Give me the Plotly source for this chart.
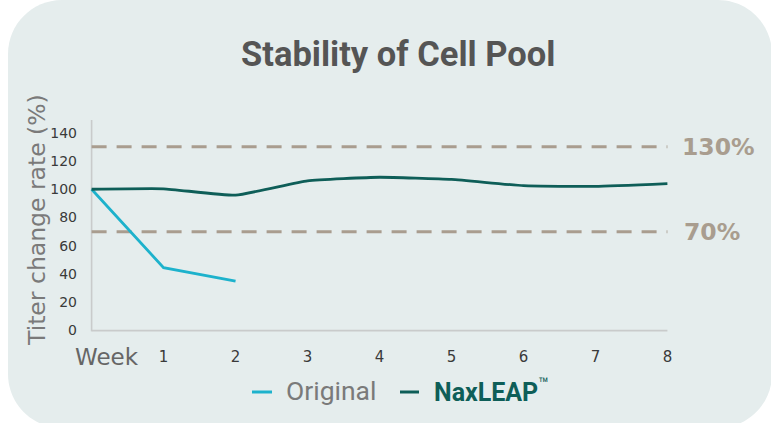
import plotly.graph_objects as go

# ---- data ----
weeks = [0, 1, 2, 3, 4, 5, 6, 7, 8]
x_tick_labels = ["1", "2", "3", "4", "5", "6", "7", "8"]
original_weeks = [0, 1, 2]
original_values = [100, 44.5, 35]
naxleap_values = [100, 100.3, 95.8, 106, 108.5, 107, 102.5, 102, 104]
y_ticks = [0, 20, 40, 60, 80, 100, 120, 140]
ref_levels = [130, 70]
ref_labels = ["130%", "70%"]

# ---- layout geometry (pixels) ----
W_PX, H_PX = 771, 423
L, T = 88, 120
PW, PH = 583, 212
R = W_PX - L - PW
B = H_PX - T - PH

def px(xp):
    return (xp - L) / PW

def py(yp):
    return (T + PH - yp) / PH

C_ORIG = "#1DB2CC"
C_NAX = "#0E5E58"
C_REF = "#A99D8F"
BG = "#E5EDED"

fig = go.Figure()
fig.add_trace(go.Scatter(x=original_weeks, y=original_values, mode="lines",
                         line=dict(color=C_ORIG, width=2.8), name="Original",
                         showlegend=False, cliponaxis=False))
fig.add_trace(go.Scatter(x=weeks, y=naxleap_values, mode="lines",
                         line=dict(color=C_NAX, width=2.8, shape="spline", smoothing=0.4),
                         name="NaxLEAP™", showlegend=False, cliponaxis=False))

shapes = []
# rounded background
x0, x1, y0, y1, r = 8, 772, 0, 428, 54
k = 0.5523 * r
def P(a, b):
    return f"{px(a):.5f},{py(b):.5f}"
path = (f"M{P(x0 + r, y0)} L{P(x1 - r, y0)} C{P(x1 - r + k, y0)} {P(x1, y0 + r - k)} {P(x1, y0 + r)} "
        f"L{P(x1, y1 - r)} C{P(x1, y1 - r + k)} {P(x1 - r + k, y1)} {P(x1 - r, y1)} "
        f"L{P(x0 + r, y1)} C{P(x0 + r - k, y1)} {P(x0, y1 - r + k)} {P(x0, y1 - r)} "
        f"L{P(x0, y0 + r)} C{P(x0, y0 + r - k)} {P(x0 + r - k, y0)} {P(x0 + r, y0)} Z")
shapes.append(dict(type="path", xref="paper", yref="paper", path=path,
                   fillcolor=BG, line=dict(width=0), layer="below"))
# axis lines
shapes.append(dict(type="line", xref="x", yref="y", x0=0, x1=0, y0=-0.5, y1=151,
                   line=dict(color="#C9CBCB", width=1.6), layer="below"))
shapes.append(dict(type="line", xref="x", yref="y", x0=0, x1=8, y0=0, y1=0,
                   line=dict(color="#C9CBCB", width=1.6), layer="below"))
# reference lines
for lv in ref_levels:
    shapes.append(dict(type="line", xref="x", yref="y", x0=0, x1=8, y0=lv, y1=lv,
                       line=dict(color=C_REF, width=3, dash="15px,10px"), layer="below"))

# legend dashes
shapes.append(dict(type="line", xref="paper", yref="paper", x0=px(252), x1=px(272),
                   y0=py(392), y1=py(392), line=dict(color=C_ORIG, width=3)))
shapes.append(dict(type="line", xref="paper", yref="paper", x0=px(400), x1=px(419),
                   y0=py(392), y1=py(392), line=dict(color=C_NAX, width=3)))

annotations = []
annotations.append(dict(text="<b>Stability of Cell Pool</b>", xref="paper", yref="paper",
                        x=px(398), y=py(54), xanchor="center", yanchor="middle", showarrow=False,
                        font=dict(family="Roboto", size=34.5, color="#555555")))
annotations.append(dict(text="Titer change rate (%)", xref="paper", yref="paper",
                        x=px(37), y=py(220), xanchor="center", yanchor="middle", showarrow=False,
                        textangle=-90, font=dict(family="DejaVu Sans", size=23.5, color="#7A7A7A")))
annotations.append(dict(text="Week", xref="paper", yref="paper",
                        x=px(107), y=py(357), xanchor="center", yanchor="middle", showarrow=False,
                        font=dict(family="DejaVu Sans", size=23, color="#666666")))
for lv, lab, xl in zip(ref_levels, ref_labels, [680, 682]):
    annotations.append(dict(text=f"<b>{lab}</b>", xref="paper", yref="y",
                            x=px(xl), y=lv, xanchor="left", yanchor="middle", showarrow=False,
                            font=dict(family="DejaVu Sans", size=23.5, color=C_REF)))
annotations.append(dict(text="Original", xref="paper", yref="paper",
                        x=px(284), y=py(390), xanchor="left", yanchor="middle", showarrow=False,
                        font=dict(family="Roboto", size=26.5, color="#7A7A7A")))
annotations.append(dict(text="<b>NaxLEAP</b><sup>™</sup>", xref="paper", yref="paper",
                        x=px(432), y=py(390), xanchor="left", yanchor="middle", showarrow=False,
                        font=dict(family="Roboto", size=25, color=C_NAX)))

fig.update_layout(
    width=W_PX, height=H_PX,
    margin=dict(l=L, r=R, t=T, b=B),
    paper_bgcolor="white", plot_bgcolor="rgba(0,0,0,0)",
    shapes=shapes, annotations=annotations,
    xaxis=dict(range=[-0.05, 8.05], tickmode="array", tickvals=weeks[1:], ticktext=x_tick_labels,
               showgrid=False, zeroline=False, showline=False, ticks="",
               ticklabelstandoff=14,
               tickfont=dict(family="DejaVu Sans", size=15, color="#3A3A3A")),
    yaxis=dict(range=[-1, 149], tickmode="array", tickvals=y_ticks,
               showgrid=False, zeroline=False, showline=False, ticks="",
               ticklabelstandoff=10,
               tickfont=dict(family="DejaVu Sans", size=14, color="#3A3A3A")),
    showlegend=False,
)

fig.write_html("out.html", config={"displayModeBar": False},
               post_script="document.body.style.margin='0';document.body.style.overflow='hidden';")
